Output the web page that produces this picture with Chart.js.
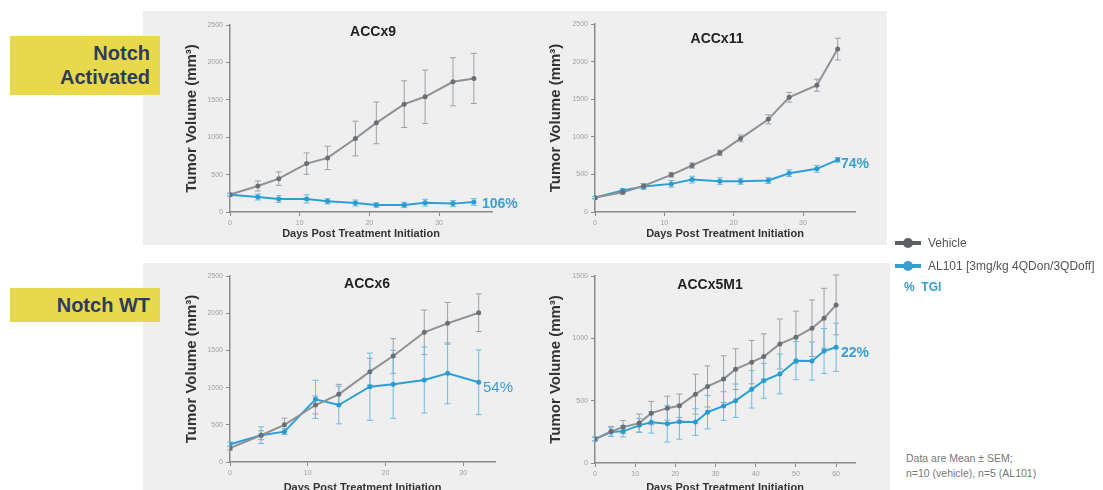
<!DOCTYPE html>
<html>
<head>
<meta charset="utf-8">
<script src="https://cdn.jsdelivr.net/npm/chart.js@4.4.1/dist/chart.umd.min.js"></script>
<style>
  body { margin: 0; width: 1103px; height: 490px; overflow: hidden; background: #fff; position: relative;
         font-family: "Liberation Sans", Arial, sans-serif; }
  .panel { position: absolute; background: #efefef; }
  .tag { position: absolute; background: #e8d84c; color: #2e3b5c; font-weight: bold; font-size: 20px;
         text-align: right; box-sizing: border-box; padding-right: 10px; line-height: 24px; }
  canvas { position: absolute; }
  .ttl { position: absolute; font-weight: bold; font-size: 14px; color: #222; transform: translate(-50%, -50%); white-space: nowrap; }
  .pct { position: absolute; color: #3a9fd2; font-size: 14px; transform: translateY(-50%); white-space: nowrap; }
  .leg { position: absolute; font-size: 12px; color: #555; white-space: nowrap; transform: translateY(-50%); }
  .mk { position: absolute; width: 26px; height: 4px; transform: translateY(-50%); }
  .mk::after { content: ""; position: absolute; left: 8px; top: -3px; width: 10px; height: 10px; border-radius: 50%; background: inherit; }
  .note { position: absolute; font-size: 10.5px; color: #777; line-height: 15px; white-space: nowrap; }
</style>
</head>
<body>
<div class="panel" style="left:143px;top:11px;width:744px;height:234px"></div>
<div class="panel" style="left:143px;top:263px;width:747px;height:240px"></div>

<div class="tag" style="left:10px;top:36px;width:150px;height:59px;padding-top:5px">Notch<br>Activated</div>
<div class="tag" style="left:10px;top:288px;width:150px;height:34px;padding-top:5px">Notch WT</div>

<canvas id="c9" width="360" height="233" style="left:180px;top:12px"></canvas>
<canvas id="c11" width="360" height="233" style="left:540px;top:12px"></canvas>
<canvas id="c6" width="360" height="236" style="left:180px;top:263px"></canvas>
<canvas id="c5" width="360" height="236" style="left:540px;top:263px"></canvas>

<div class="ttl" style="left:373px;top:31px">ACCx9</div>
<div class="ttl" style="left:717px;top:38px">ACCx11</div>
<div class="ttl" style="left:367px;top:283px">ACCx6</div>
<div class="ttl" style="left:710px;top:284px">ACCx5M1</div>

<div class="pct" style="left:482px;top:203px;font-weight:bold">106%</div>
<div class="pct" style="left:841px;top:163px;font-weight:bold">74%</div>
<div class="pct" style="left:483px;top:386px;font-size:15px">54%</div>
<div class="pct" style="left:841px;top:352px;font-weight:bold">22%</div>

<div class="mk" style="left:895px;top:243px;background:#5d6166"></div>
<div class="leg" style="left:928px;top:243px">Vehicle</div>
<div class="mk" style="left:895px;top:266px;background:#3a9dd0"></div>
<div class="leg" style="left:928px;top:266px">AL101 [3mg/kg 4QDon/3QDoff]</div>
<div class="leg" style="left:904px;top:287px;color:#3a9dd0;font-weight:bold">%&nbsp;&nbsp;TGI</div>

<div class="note" style="left:906px;top:451px">Data are Mean ± SEM;<br>n=10 (vehicle), n=5 (AL101)</div>

<script>
// ACCx9 (Notch activated)
const x9Days = [0, 4, 7, 11, 14, 18, 21, 25, 28, 32, 35];
const x9Vehicle = [232, 348, 446, 647, 723, 982, 1192, 1442, 1540, 1741, 1786];
const x9VehicleSem = [20, 67, 90, 143, 156, 232, 279, 312, 357, 321, 335];
const x9Al101 = [232, 201, 174, 174, 143, 120, 94, 94, 125, 112, 134];
const x9Al101Sem = [15, 40, 45, 55, 35, 40, 30, 35, 45, 40, 45];

// ACCx11 (Notch activated)
const x11Days = [0, 4, 7, 11, 14, 18, 21, 25, 28, 32, 35];
const x11Vehicle = [191, 262, 347, 494, 618, 787, 979, 1232, 1526, 1686, 2166];
const x11VehicleSem = [15, 25, 30, 30, 35, 35, 45, 60, 65, 80, 145];
const x11Al101 = [191, 285, 338, 374, 431, 409, 409, 418, 516, 574, 694];
const x11Al101Sem = [15, 25, 40, 45, 45, 45, 40, 40, 45, 45, 30];

// ACCx6 (Notch WT)
const x6Days = [0, 4, 7, 11, 14, 18, 21, 25, 28, 32];
const x6Vehicle = [186, 360, 499, 766, 910, 1214, 1425, 1743, 1864, 2007];
const x6VehicleSem = [25, 60, 90, 120, 134, 180, 233, 300, 280, 253];
const x6Al101 = [238, 360, 408, 842, 766, 1012, 1044, 1102, 1192, 1071];
const x6Al101Sem = [30, 112, 40, 257, 253, 452, 457, 444, 410, 435];

// ACCx5M1 (Notch WT)
const m1Days = [0, 4, 7, 11, 14, 18, 21, 25, 28, 32, 35, 39, 42, 46, 50, 54, 57, 60];
const m1Vehicle = [192, 254, 288, 320, 400, 440, 459, 552, 614, 673, 753, 809, 854, 955, 1009, 1081, 1161, 1268];
const m1VehicleSem = [15, 40, 53, 73, 94, 96, 94, 160, 165, 187, 163, 174, 182, 200, 209, 227, 240, 240];
const m1Al101 = [192, 248, 254, 302, 326, 315, 331, 328, 408, 457, 500, 591, 660, 714, 821, 818, 898, 928];
const m1Al101Sem = [15, 35, 45, 55, 86, 147, 140, 107, 134, 115, 134, 150, 140, 160, 153, 153, 180, 193];

const FONT = '"Liberation Sans", Arial, sans-serif';

// draw mean ± SEM bars from dataset.sem through the chart scales
const errorBars = {
    id: 'errorBars',
    beforeDatasetsDraw(chart) {
        const ctx = chart.ctx;
        const xs = chart.scales.x, ys = chart.scales.y;
        chart.data.datasets.forEach(ds => {
            ctx.save();
            ctx.strokeStyle = ds.barColor;
            ctx.lineWidth = 1;
            ds.data.forEach((p, i) => {
                const s = ds.sem[i];
                const px = xs.getPixelForValue(p.x);
                const top = ys.getPixelForValue(p.y + s);
                const bot = ys.getPixelForValue(p.y - s);
                ctx.beginPath();
                ctx.moveTo(px, top); ctx.lineTo(px, bot);
                ctx.moveTo(px - 3, top); ctx.lineTo(px + 3, top);
                ctx.moveTo(px - 3, bot); ctx.lineTo(px + 3, bot);
                ctx.stroke();
            });
            ctx.restore();
        });
    }
};

function series(days, vals) {
    return days.map((d, i) => ({ x: d, y: vals[i] }));
}

function makeChart(id, o) {
    const axisCommon = {
        border: { display: true, color: '#8a8a8a', width: 1.5 },
        grid: { drawOnChartArea: false, drawTicks: true, tickLength: 4, color: '#8a8a8a' },
        ticks: { color: '#a0a0a0', font: { family: FONT, size: 7 }, padding: 3, includeBounds: false,
                 format: { useGrouping: false } }
    };
    new Chart(document.getElementById(id), {
        type: 'line',
        data: {
            datasets: [
                {
                    label: 'Vehicle',
                    data: series(o.days, o.vehicle),
                    sem: o.vehicleSem,
                    barColor: '#9da1a6',
                    borderColor: '#8e9195',
                    backgroundColor: '#6b6e72',
                    pointBackgroundColor: '#6b6e72',
                    pointBorderWidth: 0,
                    pointRadius: 2.5,
                    borderWidth: 2,
                    tension: 0
                },
                {
                    label: 'AL101 [3mg/kg 4QDon/3QDoff]',
                    data: series(o.days, o.al101),
                    sem: o.al101Sem,
                    barColor: '#6cbbe2',
                    borderColor: '#2ba0d6',
                    backgroundColor: '#2a9bd0',
                    pointBackgroundColor: '#2a9bd0',
                    pointBorderWidth: 0,
                    pointRadius: 2.5,
                    borderWidth: 2,
                    tension: 0
                }
            ]
        },
        options: {
            responsive: false,
            animation: false,
            devicePixelRatio: 1,
            layout: { padding: o.padding },
            plugins: { legend: { display: false }, tooltip: { enabled: false } },
            scales: {
                x: {
                    type: 'linear',
                    min: 0,
                    max: o.xMax,
                    ...axisCommon,
                    ticks: { ...axisCommon.ticks, stepSize: 10 },
                    title: { display: true, text: 'Days Post Treatment Initiation', color: '#333',
                             font: { family: FONT, size: 11, weight: 'bold' }, padding: { top: 4, bottom: 4 } },
                    afterFit(scale) { scale.height = o.xHeight; }
                },
                y: {
                    min: 0,
                    max: o.yMax,
                    ...axisCommon,
                    ticks: { ...axisCommon.ticks, stepSize: 500 },
                    title: { display: true, text: 'Tumor Volume (mm³)', color: '#333',
                             font: { family: FONT, size: 15, weight: 'bold' }, padding: { top: 3, bottom: 4 } },
                    afterFit(scale) { scale.width = o.yWidth; }
                }
            }
        },
        plugins: [errorBars]
    });
}

makeChart('c9', {
    days: x9Days, vehicle: x9Vehicle, vehicleSem: x9VehicleSem, al101: x9Al101, al101Sem: x9Al101Sem,
    xMax: 37.6, yMax: 2500, yWidth: 50, xHeight: 33,
    padding: { left: 0, right: 48, top: 13, bottom: 0 }
});
makeChart('c11', {
    days: x11Days, vehicle: x11Vehicle, vehicleSem: x11VehicleSem, al101: x11Al101, al101Sem: x11Al101Sem,
    xMax: 37.5, yMax: 2500, yWidth: 51, xHeight: 33,
    padding: { left: 4, right: 45, top: 12, bottom: 0 }
});
makeChart('c6', {
    days: x6Days, vehicle: x6Vehicle, vehicleSem: x6VehicleSem, al101: x6Al101, al101Sem: x6Al101Sem,
    xMax: 34.1, yMax: 2500, yWidth: 50, xHeight: 37,
    padding: { left: 0, right: 45, top: 13, bottom: 0 }
});
makeChart('c5', {
    days: m1Days, vehicle: m1Vehicle, vehicleSem: m1VehicleSem, al101: m1Al101, al101Sem: m1Al101Sem,
    xMax: 64.7, yMax: 1500, yWidth: 51, xHeight: 36,
    padding: { left: 4, right: 45, top: 13, bottom: 0 }
});
</script>
</body>
</html>
